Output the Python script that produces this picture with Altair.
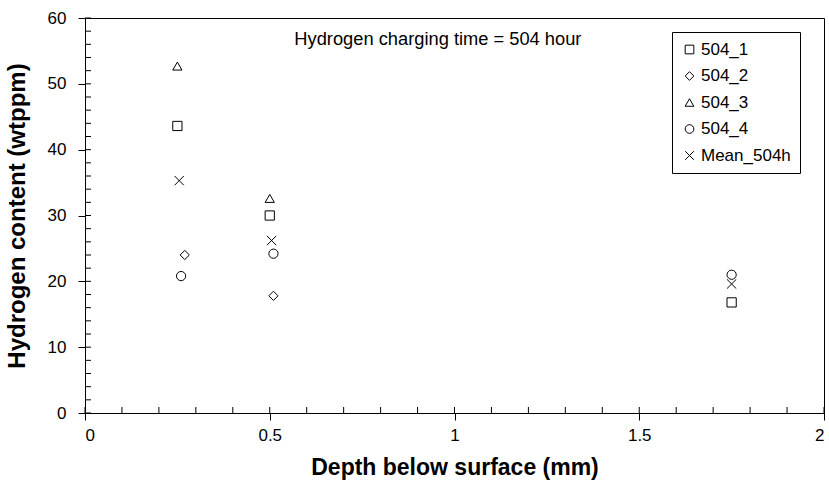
import altair as alt
import pandas as pd

series = ["504_1", "504_2", "504_3", "504_4", "Mean_504h"]
depth_504_1 = [0.25, 0.50, 1.75]
h_504_1 = [43.6, 30.0, 16.8]
depth_504_2 = [0.27, 0.51]
h_504_2 = [24.0, 17.8]
depth_504_3 = [0.25, 0.50]
h_504_3 = [52.7, 32.6]
depth_504_4 = [0.26, 0.51, 1.75]
h_504_4 = [20.8, 24.2, 21.0]
depth_mean = [0.255, 0.505, 1.75]
h_mean = [35.3, 26.2, 19.6]

x_major = [0, 0.5, 1, 1.5, 2]
y_major = [0, 10, 20, 30, 40, 50, 60]
x_minor = [round(i * 0.1, 1) for i in range(21)]
y_minor = list(range(0, 61, 2))

annotation = "Hydrogen charging time = 504 hour"
FONT = "Liberation Sans"

rows = []
for name, xs, ys in zip(series,
                        [depth_504_1, depth_504_2, depth_504_3, depth_504_4, depth_mean],
                        [h_504_1, h_504_2, h_504_3, h_504_4, h_mean]):
    for x, y in zip(xs, ys):
        rows.append({"series": name, "depth": x, "h": y})
df = pd.DataFrame(rows)

W, H = 739, 395
xscale = alt.Scale(domain=[0, 2], nice=False, zero=False)
yscale = alt.Scale(domain=[0, 60], nice=False)

cross = "M-1,-1L1,1M-1,1L1,-1"

points = alt.Chart(df).mark_point(filled=False, strokeWidth=1, size=85, opacity=1).encode(
    x=alt.X("depth:Q", scale=xscale,
            axis=alt.Axis(values=x_major, title="Depth below surface (mm)",
                          format="~g", tickSize=7, labelPadding=7, titlePadding=13,
                          titleFontSize=23)),
    y=alt.Y("h:Q", scale=yscale,
            axis=alt.Axis(values=y_major, title="Hydrogen content  (wtppm)",
                          tickSize=7, labelPadding=12, titlePadding=18,
                          titleFontSize=24)),
    shape=alt.Shape("series:N",
                    scale=alt.Scale(domain=series,
                                    range=["square", "diamond", "triangle-up", "circle", cross]),
                    legend=alt.Legend(title=None, orient="none", legendX=587, legendY=14,
                                      strokeColor="black", fillColor="white", padding=9,
                                      labelFontSize=17, labelFont=FONT, symbolSize=75,
                                      symbolStrokeWidth=1, symbolStrokeColor="black",
                                      symbolFillColor="transparent", rowPadding=8.5,
                                      labelOffset=3, labelColor="black")),
    color=alt.value("black"),
)

yminor = alt.Chart(pd.DataFrame({"v": y_minor})).mark_rule(color="black", strokeWidth=1).encode(
    y=alt.Y("v:Q", scale=yscale), x=alt.value(0), x2=alt.value(6))
xminor = alt.Chart(pd.DataFrame({"v": x_minor})).mark_rule(color="black", strokeWidth=1).encode(
    x=alt.X("v:Q", scale=xscale), y=alt.value(H), y2=alt.value(H - 6))

label = alt.Chart(pd.DataFrame({"x": [0.955], "y": [56.7], "t": [annotation]})).mark_text(
    font=FONT, fontSize=18.3, color="black", align="center", baseline="middle").encode(
    x=alt.X("x:Q", scale=xscale), y=alt.Y("y:Q", scale=yscale), text="t:N")

chart = alt.layer(yminor, xminor, points, label).properties(
    width=W, height=H,
    background="white",
    autosize=alt.AutoSizeParams(type="none"),
    padding={"left": 85, "top": 18, "right": 5, "bottom": 75},
).configure_view(stroke="black", strokeWidth=1).configure_axis(
    grid=False, domainColor="black", tickColor="black", labelColor="black",
    titleColor="black", labelFont=FONT, titleFont=FONT, labelFontSize=17,
    titleFontSize=21, titleFontWeight="bold", domainWidth=1,
)

chart.save("out.html", embed_options={"renderer": "svg", "actions": False})
